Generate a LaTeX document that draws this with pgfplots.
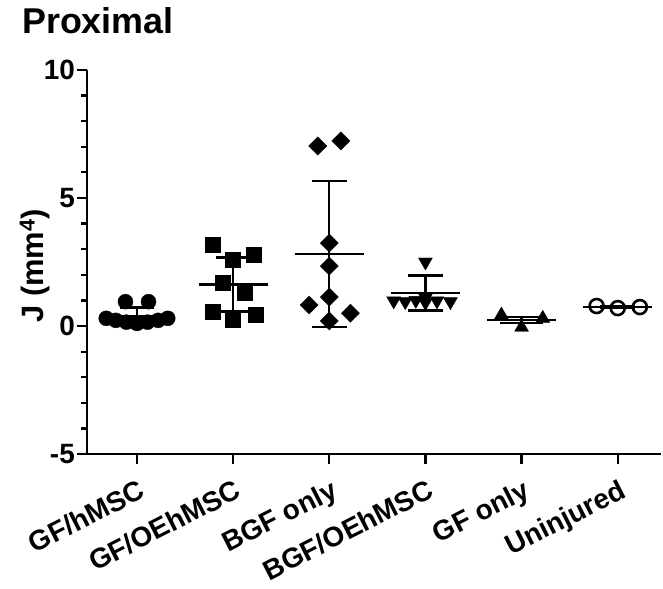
\documentclass[border=0pt]{standalone}
\usepackage{fontspec}
\setmainfont{Liberation Sans}
\usepackage{pgfplots}
\pgfplotsset{compat=1.18}
\begin{document}
\begin{tikzpicture}
\useasboundingbox (-87bp,-135bp) rectangle (576bp,454bp);
\begin{axis}[
    scale only axis, width=574bp, height=384bp,
    xmin=0.48, xmax=6.45, ymin=-5, ymax=10,
    axis lines=left, axis line style={-, line width=2.2bp},
    xtick={1,...,6},
    xticklabels={GF/hMSC, GF/OEhMSC, BGF only, BGF/OEhMSC, GF only, Uninjured},
    ytick={-5,0,5,10}, yticklabels={-5,0,5,10},
    minor y tick num=4,
    tick align=outside,
    major tick length=10bp, minor tick length=6bp,
    every tick/.style={line width=2.2bp, black},
    x tick label style={rotate=27, anchor=north east, inner sep=0bp, yshift=-13bp, xshift=-6bp,
        font=\bfseries\fontsize{28}{30}\selectfont},
    y tick label style={font=\bfseries\fontsize{28}{30}\selectfont, inner sep=1bp, xshift=-1bp},
    ylabel={J (mm\textsuperscript{4})},
    ylabel style={at={(axis description cs:-0.064,0.49)}, anchor=south, inner sep=0bp,
        font=\bfseries\fontsize{31}{33}\selectfont},
    title={Proximal},
    title style={at={(0,1)}, anchor=base west, xshift=-65bp, yshift=31bp, inner sep=0bp,
        font=\bfseries\fontsize{36}{40}\selectfont},
    unbounded coords=jump,
    clip=false,
]
% individual values
\addplot[only marks, mark=*, mark size=7.5bp, black] coordinates {
    (0.88,0.95) (1.12,0.95)
    (0.68,0.30) (0.78,0.22) (0.89,0.15) (1.00,0.10) (1.11,0.15) (1.22,0.22) (1.32,0.30)
};
\addplot[only marks, mark=square*, mark size=7.5bp, black] coordinates {
    (1.79,3.16) (2.00,2.58) (2.21,2.77) (1.89,1.68) (2.12,1.29)
    (1.79,0.55) (2.00,0.23) (2.23,0.43)
};
\addplot[only marks, mark=square*, mark size=6.4bp, mark options={rotate=45}, black] coordinates {
    (2.88,7.03) (3.12,7.23) (3.00,3.24) (3.00,2.34) (3.00,1.13)
    (2.79,0.82) (3.22,0.50) (3.00,0.20)
};
\addplot[only marks, mark=triangle*, mark size=8bp, mark options={rotate=180}, black] coordinates {
    (4.00,2.50) (3.67,0.98) (3.79,0.95) (3.90,1.00) (4.00,0.92) (4.12,0.98) (4.26,0.95) (4.00,1.10)
};
\addplot[only marks, mark=triangle*, mark size=8bp, black] coordinates {
    (4.79,0.43) (5.22,0.30) (5.00,-0.05)
};
\addplot[only marks, mark=o, mark size=7bp, line width=2.6bp, black, fill=white] coordinates {
    (5.78,0.78) (6.00,0.70) (6.23,0.74)
};
% mean lines
\addplot[black, line width=2.6bp] coordinates {
    (0.64,0.39) (1.36,0.39) (nan,nan)
    (1.64,1.62) (2.36,1.62) (nan,nan)
    (2.64,2.81) (3.36,2.81) (nan,nan)
    (3.64,1.29) (4.36,1.29) (nan,nan)
    (4.64,0.23) (5.36,0.23) (nan,nan)
    (5.64,0.74) (6.36,0.74)
};
% SD whiskers
\addplot[black, line width=2.4bp] coordinates {
    (1,0.06) (1,0.72) (nan,nan) (0.82,0.72) (1.18,0.72) (nan,nan) (0.82,0.06) (1.18,0.06) (nan,nan)
    (2,0.56) (2,2.68) (nan,nan) (1.82,2.68) (2.18,2.68) (nan,nan) (1.82,0.56) (2.18,0.56) (nan,nan)
    (3,-0.04) (3,5.66) (nan,nan) (2.82,5.66) (3.18,5.66) (nan,nan) (2.82,-0.04) (3.18,-0.04) (nan,nan)
    (4,0.60) (4,1.98) (nan,nan) (3.82,1.98) (4.18,1.98) (nan,nan) (3.82,0.60) (4.18,0.60) (nan,nan)
    (5,0.11) (5,0.35) (nan,nan) (4.78,0.35) (5.22,0.35) (nan,nan) (4.78,0.11) (5.22,0.11) (nan,nan)
    (6,0.70) (6,0.78) (nan,nan) (5.82,0.78) (6.18,0.78) (nan,nan) (5.82,0.70) (6.18,0.70)
};
\end{axis}
\end{tikzpicture}
\end{document}
